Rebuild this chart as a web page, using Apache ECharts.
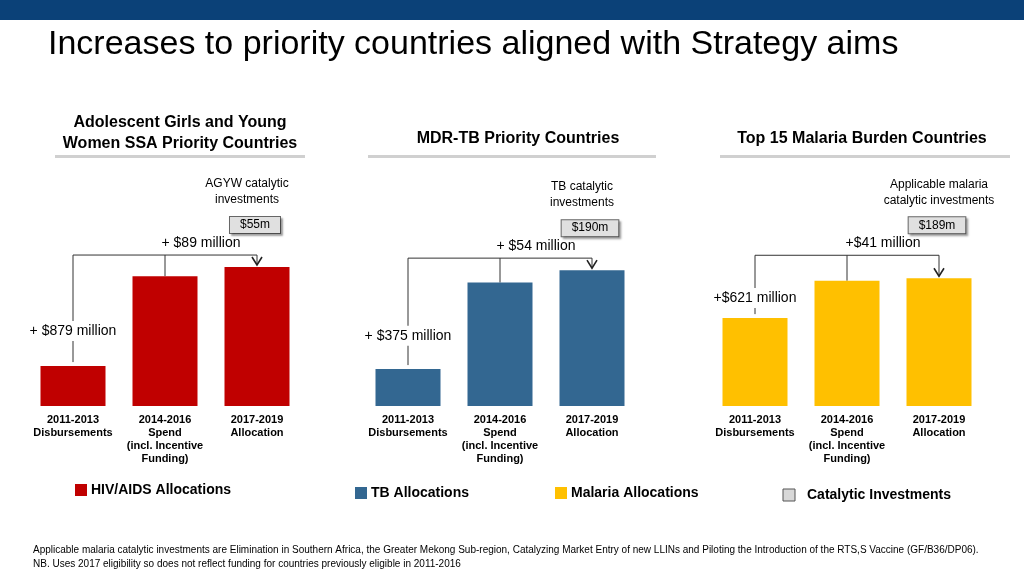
<!DOCTYPE html>
<html><head><meta charset="utf-8">
<script src="https://cdn.jsdelivr.net/npm/echarts@6/dist/echarts.min.js"></script>
<style>html,body{margin:0;padding:0;background:#fff}#main{width:1024px;height:576px}</style>
</head><body><div id="main"></div>
<script>
var categories = ['2011-2013\nDisbursements', '2014-2016\nSpend\n(incl. Incentive\nFunding)', '2017-2019\nAllocation'];
var hivValues = [390, 1269, 1358];
var tbValues = [160, 535, 589];
var malariaValues = [1460, 2081, 2122];
var panelTitles = ['Adolescent Girls and Young\nWomen SSA Priority Countries', 'MDR-TB Priority Countries', 'Top 15 Malaria Burden Countries'];
var catalyticLabels = ['AGYW catalytic\ninvestments', 'TB catalytic\ninvestments', 'Applicable malaria\ncatalytic investments'];
var catalyticValues = ['$55m', '$190m', '$189m'];
var firstDiffLabels = ['+ $879 million', '+ $375 million', '+$621 million'];
var secondDiffLabels = ['+ $89 million', '+ $54 million', '+$41 million'];
var colors = ['#c00000', '#336791', '#ffc000'];
var yMax = [1720, 763, 2924];

var chart = echarts.init(document.getElementById('main'));
var font = 'Liberation Sans, Arial, sans-serif';
var grids = [], xAxes = [], yAxes = [], series = [];
var lefts = [27, 362, 709];
var allData = [hivValues, tbValues, malariaValues];
for (var i = 0; i < 3; i++) {
    grids.push({left: lefts[i], width: 276, top: 230, height: 176});
    xAxes.push({type: 'category', gridIndex: i, data: categories,
        axisLine: {show: false}, axisTick: {show: false},
        axisLabel: {interval: 0, color: '#000', fontWeight: 'bold', fontSize: 11, fontFamily: font, lineHeight: 13, margin: 7}});
    yAxes.push({type: 'value', gridIndex: i, min: 0, max: yMax[i], show: false, splitLine: {show: false}});
    series.push({type: 'bar', xAxisIndex: i, yAxisIndex: i, data: allData[i], barWidth: 65,
        itemStyle: {color: colors[i]}, silent: true});
}

var graphic = [
    {type: 'rect', shape: {x: 0, y: 0, width: 1024, height: 20}, style: {fill: '#0b4178'}},
    {type: 'text', left: 48, top: 28, style: {text: 'Increases to priority countries aligned with Strategy aims', font: '34px ' + font, fill: '#000'}},
    {type: 'text', left: 33, top: 543, style: {text: 'Applicable malaria catalytic investments are Elimination in Southern Africa, the Greater Mekong Sub-region, Catalyzing Market Entry of new LLINs and Piloting the Introduction of the RTS,S Vaccine (GF/B36/DP06).\nNB. Uses 2017 eligibility so does not reflect funding for countries previously eligible in 2011-2016', font: '10px ' + font, fill: '#000', lineHeight: 14}}
];
var titleCenters = [180, 518, 862];
var lineSpans = [[55, 305], [368, 656], [720, 1010]];
for (var i = 0; i < 3; i++) {
    graphic.push({type: 'text', x: titleCenters[i], y: i === 0 ? 112 : 128, style: {text: panelTitles[i], font: 'bold 16px ' + font, fill: '#000', align: 'center', lineHeight: 21}});
    graphic.push({type: 'rect', shape: {x: lineSpans[i][0], y: 155, width: lineSpans[i][1] - lineSpans[i][0], height: 3}, style: {fill: '#d0d0d0'}});
}
var legend = [['HIV/AIDS Allocations', 75, colors[0], 490], ['TB Allocations', 355, colors[1], 493], ['Malaria Allocations', 555, colors[2], 493], ['Catalytic Investments', 783, '#d8d8d8', 495]];
legend.forEach(function (l) {
    graphic.push({type: 'rect', shape: {x: l[1], y: l[3] - 6, width: 12, height: 12}, style: {fill: l[2], stroke: l[2] === '#d8d8d8' ? '#555' : null, lineWidth: 1}});
    graphic.push({type: 'text', x: l[1] + (l[2] === '#d8d8d8' ? 24 : 16), y: l[3], style: {text: l[0], font: 'bold 14px ' + font, fill: '#000', verticalAlign: 'middle'}});
});

chart.setOption({animation: false, grid: grids, xAxis: xAxes, yAxis: yAxes, series: series, graphic: graphic});

// brackets and labels positioned from the axes
var extra = [];
for (var i = 0; i < 3; i++) {
    var d = allData[i];
    var p0 = chart.convertToPixel({gridIndex: i}, [0, d[0]]);
    var p1 = chart.convertToPixel({gridIndex: i}, [1, d[1]]);
    var p2 = chart.convertToPixel({gridIndex: i}, [2, d[2]]);
    var by = Math.min(p1[1], p2[1]) - (i === 2 ? 23 : 12);
    var ls = {stroke: '#333', lineWidth: 1};
    extra.push({type: 'polyline', shape: {points: [[p0[0], p0[1] - 4], [p0[0], by], [p2[0], by], [p2[0], p2[1] - 2]]}, style: ls});
    extra.push({type: 'line', shape: {x1: p1[0], y1: by, x2: p1[0], y2: p1[1]}, style: ls});
    extra.push({type: 'polyline', shape: {points: [[p2[0] - 5, p2[1] - 10], [p2[0], p2[1] - 2], [p2[0] + 5, p2[1] - 10]]}, style: {stroke: '#222', lineWidth: 1.6}});
    var midY = i === 2 ? p0[1] - 20 : (p0[1] + p1[1]) / 2 + 10;
    extra.push({type: 'text', x: p0[0], y: midY, style: {text: firstDiffLabels[i], font: '14px ' + font, fill: '#000', align: 'center', verticalAlign: 'middle', backgroundColor: '#fff', padding: [3, 2]}});
    extra.push({type: 'text', x: (p1[0] + p2[0]) / 2 - 10, y: by - 12, style: {text: secondDiffLabels[i], font: '14px ' + font, fill: '#000', align: 'center', verticalAlign: 'middle'}});
    extra.push({type: 'text', x: p2[0] - 2, y: by - 30, style: {text: catalyticValues[i], font: '12px ' + font, fill: '#000', align: 'center', verticalAlign: 'middle', backgroundColor: '#e0e0e0', borderColor: '#666', borderWidth: 1, padding: [2, 10], shadowColor: 'rgba(0,0,0,0.3)', shadowOffsetX: 2, shadowOffsetY: 2, shadowBlur: 2}});
    extra.push({type: 'text', x: p2[0] - (i === 2 ? 0 : 10), y: by - 63, style: {text: catalyticLabels[i], font: '12px ' + font, fill: '#000', align: 'center', verticalAlign: 'middle', lineHeight: 16}});
}
chart.setOption({graphic: graphic.concat(extra)});
</script>
</body></html>
